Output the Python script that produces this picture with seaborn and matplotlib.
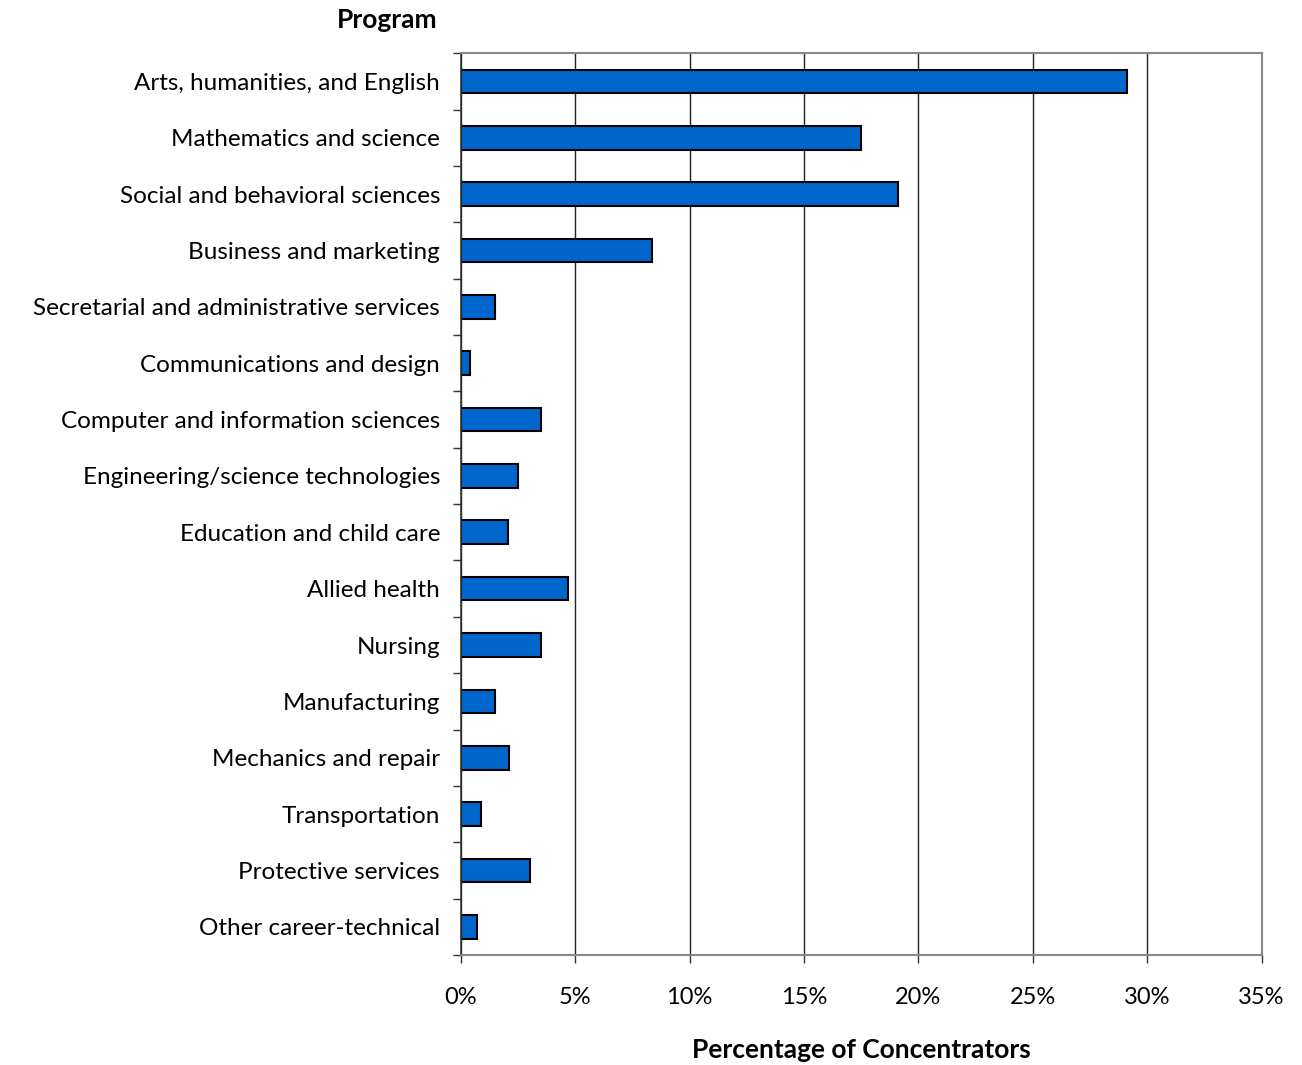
import numpy as np
import pandas as pd
import matplotlib
matplotlib.use("Agg")
import matplotlib.pyplot as plt
import seaborn as sns
from matplotlib.ticker import FixedLocator, PercentFormatter

# Data
programs = [
    "Arts, humanities, and English",
    "Mathematics and science",
    "Social and behavioral sciences",
    "Business and marketing",
    "Secretarial and administrative services",
    "Communications and design",
    "Computer and information sciences",
    "Engineering/science technologies",
    "Education and child care",
    "Allied health",
    "Nursing",
    "Manufacturing",
    "Mechanics and repair",
    "Transportation",
    "Protective services",
    "Other career-technical",
]
percent = [29.1, 17.5, 19.1, 8.35, 1.5, 0.4, 3.5, 2.5, 2.05, 4.7, 3.5, 1.5, 2.1, 0.9, 3.0, 0.7]
x_ticks = [0, 5, 10, 15, 20, 25, 30, 35]

df = pd.DataFrame({"Program": programs, "Percent": percent})

sns.set_style("white")
plt.rcParams["font.family"] = ["Lato", "DejaVu Sans"]
plt.rcParams["text.color"] = "black"
plt.rcParams["xtick.color"] = "black"
plt.rcParams["ytick.color"] = "black"

fig = plt.figure(figsize=(13.02, 10.65), dpi=100)
ax = fig.add_axes([0.354, 0.1033, 0.615, 0.8467])

sns.barplot(data=df, x="Percent", y="Program", orient="h", color="#0066CC",
            edgecolor="black", linewidth=1.5, width=0.42, saturation=1, ax=ax)

ax.set_xlim(0, 35)
ax.set_ylim(len(programs) - 0.5, -0.5)
ax.xaxis.set_major_locator(FixedLocator(x_ticks))
ax.xaxis.set_major_formatter(PercentFormatter(decimals=0))
ax.grid(axis="x", color="#222222", linewidth=1)
ax.set_axisbelow(True)

# tick marks between categories on the y-axis
ax.yaxis.set_minor_locator(FixedLocator(np.arange(-0.5, len(programs), 1)))
ax.tick_params(axis="y", which="major", length=0, labelsize=17.5, pad=15,
               labelcolor="black")
ax.tick_params(axis="y", which="minor", length=6, width=1, color="#333333", left=True)
ax.tick_params(axis="x", which="major", length=6, width=1, color="#333333", bottom=True,
               labelsize=17, pad=17, labelcolor="black")

for s in ["top", "right", "bottom"]:
    ax.spines[s].set_color("#888888")
    ax.spines[s].set_linewidth(1.5)
ax.spines["left"].set_color("#333333")
ax.spines["left"].set_linewidth(1.2)

ax.set_ylabel("")
ax.set_xlabel("Percentage of Concentrators", fontsize=19, fontweight="bold",
              labelpad=22, color="black")
fig.text(0.297, 0.981, "Program", fontsize=19, fontweight="bold", ha="center",
         va="center", color="black")

fig.savefig("out.png", dpi=100)
